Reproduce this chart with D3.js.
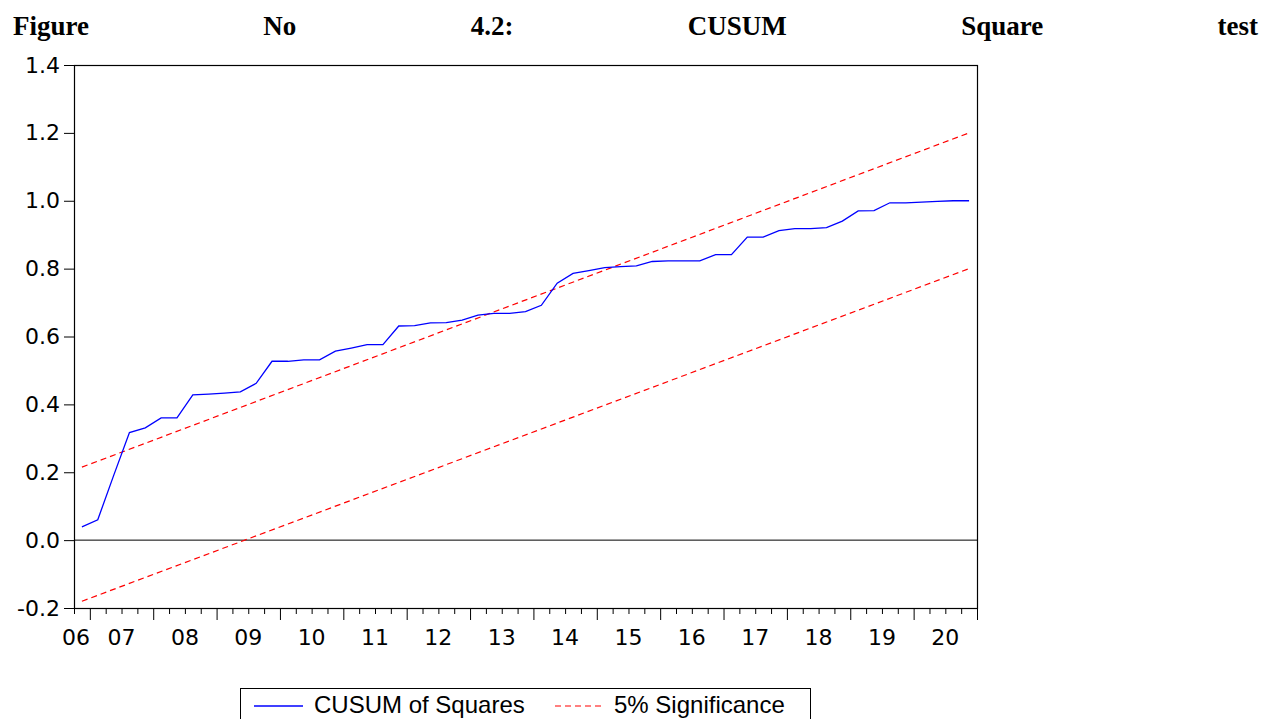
<!DOCTYPE html>
<html>
<head>
<meta charset="utf-8">
<script src="https://cdn.jsdelivr.net/npm/d3@7"></script>
<style>
  body { margin: 0; background: #fff; }
</style>
</head>
<body>
<div id="chart"></div>
<script>
// CUSUM of squares, one value per quarter from 2006Q4 to 2020Q4
const cusumSq = [0.039, 0.060, 0.190, 0.317, 0.331, 0.360, 0.360, 0.428, 0.430, 0.433,
                 0.437, 0.462, 0.527, 0.527, 0.531, 0.531, 0.557, 0.566, 0.576, 0.576,
                 0.631, 0.632, 0.640, 0.641, 0.648, 0.663, 0.668, 0.668, 0.673, 0.692,
                 0.757, 0.786, 0.794, 0.803, 0.806, 0.808, 0.821, 0.823, 0.823, 0.823,
                 0.841, 0.841, 0.893, 0.893, 0.912, 0.918, 0.918, 0.921, 0.940, 0.970,
                 0.971, 0.994, 0.994, 0.996, 0.998, 1.000, 1.000];
// 5% bands, value at first and last observation (straight lines)
const upperBand = [0.215, 1.2];
const lowerBand = [-0.18, 0.8];
const startYear = 2006;
const startQuarter = 4;
const yearLabels = ['06', '07', '08', '09', '10', '11', '12', '13', '14', '15', '16', '17', '18', '19', '20'];
const yTicks = [-0.2, 0.0, 0.2, 0.4, 0.6, 0.8, 1.0, 1.2, 1.4];
const titleText = 'Figure No 4.2: CUSUM Square test';
const legendLabels = ['CUSUM of Squares', '5% Significance'];

const width = 1263;
const height = 719;
const margin = { top: 65, bottom: 111, left: 74, right: 286 };

const svg = d3.select('#chart')
  .append('svg')
  .attr('width', width)
  .attr('height', height);

// time in years, observation i covers one quarter
const t0 = startYear + (startQuarter - 1) / 4;
const t1 = t0 + cusumSq.length / 4;
const obsTime = i => t0 + i / 4 + 0.125;

const x = d3.scaleLinear()
  .domain([t0, t1])
  .range([margin.left, width - margin.right]);

const y = d3.scaleLinear()
  .domain([-0.2, 1.4])
  .range([height - margin.bottom, margin.top]);

// title, justified across the page
const tg = svg.append('g')
  .attr('font-family', '"Liberation Serif", "DejaVu Serif", serif')
  .attr('font-weight', 'bold')
  .attr('font-size', '27px')
  .attr('fill', '#000');
const words = titleText.split(' ');
const wordNodes = words.map(w => tg.append('text').attr('y', 35).text(w));
const widths = wordNodes.map(n => n.node().getComputedTextLength());
const gap = (1258 - 13 - d3.sum(widths)) / (words.length - 1);
let cx = 13;
wordNodes.forEach((n, i) => { n.attr('x', cx); cx += widths[i] + gap; });

// y axis
svg.append('g')
  .attr('transform', `translate(${margin.left},0)`)
  .call(d3.axisLeft(y).tickValues(yTicks).tickSize(10).tickPadding(4).tickFormat(d => d.toFixed(1)))
  .call(g => g.select('.domain').remove())
  .attr('font-family', '"DejaVu Sans", sans-serif')
  .attr('font-size', '22px')
  .selectAll('text').attr('fill', '#000');

// x axis: a tick at every quarter, longer ones at the start of each year
const quarterTicks = d3.range(cusumSq.length + 1).map(k => t0 + k / 4);
const xAxis = svg.append('g')
  .attr('transform', `translate(0,${height - margin.bottom})`)
  .call(d3.axisBottom(x).tickValues(quarterTicks).tickSize(6).tickFormat(''))
  .call(g => g.select('.domain').remove());
xAxis.selectAll('.tick line')
  .attr('y2', d => Number.isInteger(d) ? 12 : 6);

svg.append('g')
  .attr('font-family', '"DejaVu Sans", sans-serif')
  .attr('font-size', '22px')
  .attr('text-anchor', 'middle')
  .selectAll('text')
  .data(yearLabels)
  .join('text')
  .attr('x', (d, i) => Math.max(x(startYear + i + 0.5), x(t0) + 2))
  .attr('y', height - margin.bottom + 37)
  .text(d => d);

// zero line
svg.append('line')
  .attr('x1', x(t0)).attr('x2', x(t1))
  .attr('y1', y(0)).attr('y2', y(0))
  .attr('stroke', '#000').attr('stroke-width', 1);

// frame
svg.append('rect')
  .attr('x', x(t0) + 0.5)
  .attr('y', y(1.4) + 0.5)
  .attr('width', x(t1) - x(t0))
  .attr('height', y(-0.2) - y(1.4))
  .attr('fill', 'none')
  .attr('stroke', '#000')
  .attr('stroke-width', 1.2);

// significance bands
const last = cusumSq.length - 1;
const bandLine = d3.line().x(d => x(d[0])).y(d => y(d[1]));
[upperBand, lowerBand].forEach(b => {
  svg.append('path')
    .attr('d', bandLine([[obsTime(0), b[0]], [obsTime(last), b[1]]]))
    .attr('fill', 'none')
    .attr('stroke', '#ff0000')
    .attr('stroke-width', 1.2)
    .attr('stroke-dasharray', '6,4');
});

// cusum of squares line
svg.append('path')
  .datum(cusumSq)
  .attr('d', d3.line().x((d, i) => x(obsTime(i))).y(d => y(d)))
  .attr('fill', 'none')
  .attr('stroke', '#0000ff')
  .attr('stroke-width', 1.3);

// legend (box runs past the bottom edge, as in the original)
const lg = svg.append('g')
  .attr('font-family', '"Liberation Sans", Arial, sans-serif')
  .attr('font-size', '24px');
lg.append('rect')
  .attr('x', 240.5).attr('y', 688.5)
  .attr('width', 570).attr('height', 50)
  .attr('fill', '#fff').attr('stroke', '#000').attr('stroke-width', 1);
lg.append('line')
  .attr('x1', 254).attr('x2', 303).attr('y1', 706).attr('y2', 706)
  .attr('stroke', '#0000ff').attr('stroke-width', 1.3);
lg.append('text').attr('x', 314).attr('y', 713).text(legendLabels[0]);
lg.append('line')
  .attr('x1', 555).attr('x2', 605).attr('y1', 706).attr('y2', 706)
  .attr('stroke', '#ff0000').attr('stroke-width', 1.2).attr('stroke-dasharray', '6,4');
lg.append('text').attr('x', 614).attr('y', 713).text(legendLabels[1]);
</script>
</body>
</html>
